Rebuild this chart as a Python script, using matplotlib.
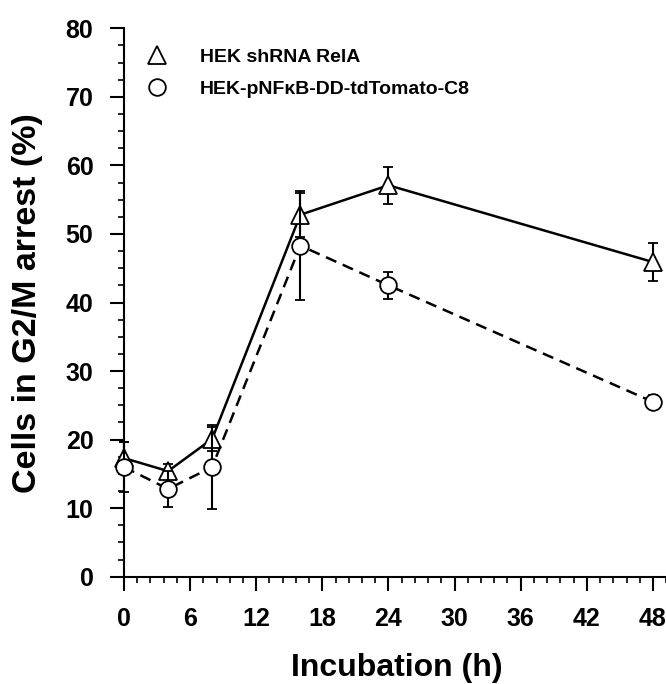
import matplotlib
matplotlib.use('Agg')
import matplotlib.pyplot as plt
from matplotlib.ticker import MultipleLocator
from matplotlib.lines import Line2D

plt.rcParams['font.family'] = ['Liberation Sans', 'DejaVu Sans']
plt.rcParams['font.weight'] = 'bold'

time_h = [0, 4, 8, 16, 24, 48]
relA_mean = [17.3, 15.4, 20.1, 52.8, 57.1, 45.9]
relA_err = [2.3, 1.0, 1.8, 3.2, 2.7, 2.8]
c8_mean = [16.0, 12.8, 16.0, 48.3, 42.5, 25.5]
c8_err = [3.7, 2.6, 6.1, 7.9, 2.0, 1.0]

labels = ['HEK shRNA RelA', 'HEK-pNF\u03baB-DD-tdTomato-C8']
x_ticks = [0, 6, 12, 18, 24, 30, 36, 42, 48]
y_ticks = [0, 10, 20, 30, 40, 50, 60, 70, 80]

fig = plt.figure(figsize=(6.66, 6.84), dpi=100)
ax = fig.add_axes([124/666, 1-576.7/684, 50*11.02/666, (576.7-28.3)/684])

for art in ax.errorbar(time_h, relA_mean, yerr=relA_err, fmt='-', color='black', lw=1.8,
                       marker='^', ms=13, mfc='white', mec='black', mew=1.3,
                       capsize=3.5, capthick=1.5, elinewidth=1.5, zorder=3).get_children():
    art.set_clip_on(False)
for art in ax.errorbar(time_h, c8_mean, yerr=c8_err, fmt='-', color='black', lw=1.8,
                       dashes=(4.5, 2.8), marker='o', ms=12, mfc='white', mec='black', mew=1.3,
                       capsize=3.5, capthick=1.5, elinewidth=1.5, zorder=4).get_children():
    art.set_clip_on(False)

ax.set_xlim(0, 50)
ax.set_ylim(0, 80)
ax.set_xticks(x_ticks)
ax.set_yticks(y_ticks)
ax.xaxis.set_minor_locator(MultipleLocator(1.2))
ax.yaxis.set_minor_locator(MultipleLocator(2.5))
for s in ['top', 'right']:
    ax.spines[s].set_visible(False)
for s in ['left', 'bottom']:
    ax.spines[s].set_linewidth(1.5)
ax.tick_params(which='major', direction='out', length=10, width=1.5, pad=12, labelsize=18)
ax.tick_params(which='minor', direction='out', length=4, width=1.2)
for t in ax.get_xticklabels() + ax.get_yticklabels():
    t.set_fontweight('bold')

ax.set_xlabel('Incubation (h)', fontsize=23, fontweight='bold', va='center')
ax.xaxis.set_label_coords(0.496, -0.1665)
ax.set_ylabel('Cells in G2/M arrest (%)', fontsize=24.5, fontweight='bold', va='center')
ax.yaxis.set_label_coords(-0.175, 0.499)

handles = [Line2D([], [], ls='none', marker='^', ms=13, mfc='white', mec='black', mew=1.3),
           Line2D([], [], ls='none', marker='o', ms=12, mfc='white', mec='black', mew=1.3)]
leg = ax.legend(handles, labels, loc='upper left', bbox_to_anchor=(147.3/666, 1-48/684),
                bbox_transform=fig.transFigure, frameon=False, fontsize=14,
                handlelength=1.0, handletextpad=1.72, labelspacing=0.76, borderpad=0, borderaxespad=0)
for t in leg.get_texts():
    t.set_fontweight('bold')

fig.savefig('out.png', dpi=100)
